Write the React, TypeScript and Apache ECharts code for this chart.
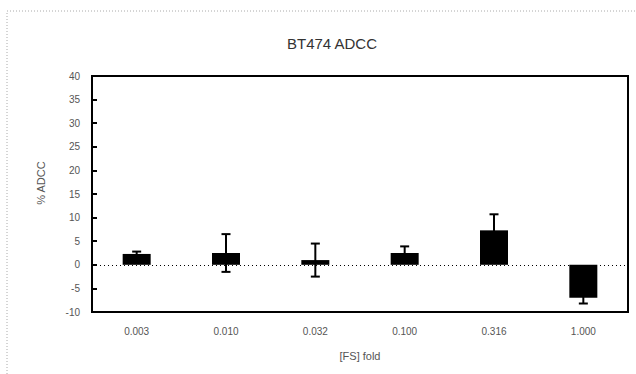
import React, { useEffect, useRef } from "react";
import * as echarts from "echarts";

const categories = ["0.003", "0.010", "0.032", "0.100", "0.316", "1.000"];
const meanValues = [2.3, 2.5, 1.0, 2.5, 7.3, -7.0];
const errorValues = [0.5, 4.0, 3.5, 1.4, 3.4, 1.2];
const yTicks = { min: -10, max: 40, interval: 5 };
const titleText = "BT474 ADCC";
const yTitle = "% ADCC";
const xTitle = "[FS] fold";

export default function App() {
  const ref = useRef<HTMLDivElement>(null);
  useEffect(() => {
    if (!ref.current) return;
    const chart = echarts.init(ref.current, null, { renderer: "svg" });
    const font = "Liberation Sans, Arial, sans-serif";
    const errData = categories.map((c, i) => [i, meanValues[i] - errorValues[i], meanValues[i] + errorValues[i]]);
    chart.setOption({
      animation: false,
      backgroundColor: "#fff",
      title: {
        text: titleText,
        left: 327,
        top: 31,
        textAlign: "center",
        textStyle: { fontFamily: font, fontSize: 15, fontWeight: "normal", color: "#333" },
      },
      grid: {
        left: 92,
        top: 76,
        right: 8,
        bottom: 62,
        show: true,
        borderColor: "#000",
        borderWidth: 2,
        backgroundColor: "transparent",
      },
      xAxis: {
        type: "category",
        data: categories,
        axisLine: { onZero: false, lineStyle: { color: "#000", width: 2 } },
        axisTick: { show: false },
        axisLabel: { fontFamily: font, fontSize: 10, color: "#555", margin: 14 },
        name: xTitle,
        nameLocation: "middle",
        nameGap: 38,
        nameTextStyle: { fontFamily: font, fontSize: 11, color: "#555" },
      },
      yAxis: {
        type: "value",
        min: yTicks.min,
        max: yTicks.max,
        interval: yTicks.interval,
        axisLine: { show: true, lineStyle: { color: "#000", width: 2 } },
        axisTick: { show: true, inside: true, length: 5, lineStyle: { color: "#000", width: 2 } },
        axisLabel: { fontFamily: font, fontSize: 10, color: "#555", margin: 12 },
        splitLine: { show: false },
      },
      graphic: [
        {
          type: "rect",
          shape: { x: 7, y: 11, width: 640, height: 380 },
          style: { fill: "none", stroke: "#aaa", lineWidth: 1, lineDash: [1, 2] },
          silent: true,
        },
        {
          type: "text",
          x: 41,
          y: 183,
          rotation: Math.PI / 2,
          style: {
            text: yTitle,
            fontFamily: font,
            fontSize: 11,
            fill: "#555",
            textAlign: "center",
            textVerticalAlign: "middle",
          },
        },
      ],
      series: [
        {
          type: "bar",
          data: meanValues,
          barWidth: 28,
          itemStyle: { color: "#000" },
          markLine: {
            silent: true,
            symbol: "none",
            label: { show: false },
            lineStyle: { color: "#000", type: [1, 3], width: 1 },
            data: [{ yAxis: 0 }],
          },
        },
        {
          type: "custom",
          data: errData,
          z: 3,
          renderItem: (params: any, api: any) => {
            const x = api.value(0);
            const lo = api.coord([x, api.value(1)]);
            const hi = api.coord([x, api.value(2)]);
            const hw = 4.5;
            const st = { stroke: "#000", lineWidth: 2 };
            return {
              type: "group",
              children: [
                { type: "line", shape: { x1: hi[0], y1: hi[1], x2: lo[0], y2: lo[1] }, style: st },
                { type: "line", shape: { x1: hi[0] - hw, y1: hi[1], x2: hi[0] + hw, y2: hi[1] }, style: st },
                { type: "line", shape: { x1: lo[0] - hw, y1: lo[1], x2: lo[0] + hw, y2: lo[1] }, style: st },
              ],
            };
          },
        },
      ],
    });
    return () => chart.dispose();
  }, []);
  return <div ref={ref} style={{ width: 636, height: 374, position: "absolute", left: 0, top: 0 }} />;
}
